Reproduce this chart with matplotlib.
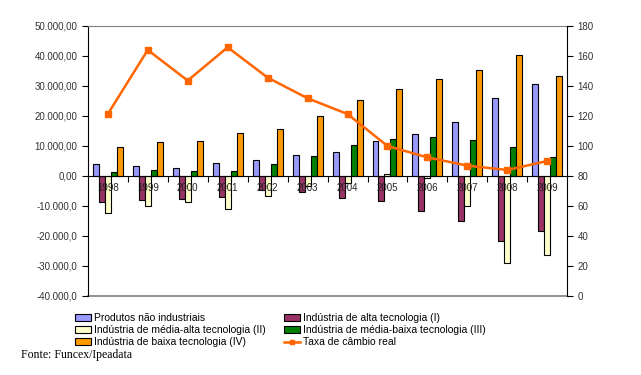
import matplotlib.pyplot as plt
import numpy as np
from matplotlib.patches import Patch
from matplotlib.lines import Line2D

plt.rcParams['font.family'] = ['Liberation Sans', 'DejaVu Sans']

# =========================================================
# Data
# =========================================================
years = ["1998", "1999", "2000", "2001", "2002", "2003",
         "2004", "2005", "2006", "2007", "2008", "2009"]

nao_industriais = [4000, 3300, 2500, 4300, 5200, 6900, 8100, 11500, 13900, 17900, 25900, 30600]
alta_tec = [-8800, -7900, -7600, -6900, -4800, -5400, -7400, -8300, -11800, -15100, -21700, -18400]
media_alta_tec = [-12300, -10100, -8800, -10900, -6800, -3200, -2400, 600, -700, -10100, -29100, -26400]
media_baixa_tec = [1300, 2000, 1600, 1600, 4000, 6700, 10200, 12200, 12900, 11900, 9600, 6200]
baixa_tec = [9700, 11200, 11500, 14200, 15500, 19900, 25200, 28900, 32200, 35200, 40200, 33200]
taxa_cambio = [121.3, 164, 143.6, 165.8, 145.6, 131.8, 121.3, 100, 92.4, 86.9, 84, 90]

left_ticks = [50000, 40000, 30000, 20000, 10000, 0, -10000, -20000, -30000, -40000]
left_labels = ["50.000,00", "40.000,00", "30.000,00", "20.000,00", "10.000,00", "0,00",
               "-10.000,0", "-20.000,0", "-30.000,0", "-40.000,0"]
right_ticks = [0, 20, 40, 60, 80, 100, 120, 140, 160, 180]

series = [
    ("Produtos não industriais", nao_industriais, "#9999FF"),
    ("Indústria de alta tecnologia (I)", alta_tec, "#993366"),
    ("Indústria de média-alta tecnologia (II)", media_alta_tec, "#FFFFCC"),
    ("Indústria de média-baixa tecnologia (III)", media_baixa_tec, "#008000"),
    ("Indústria de baixa tecnologia (IV)", baixa_tec, "#FF9900"),
]
line_color = "#FF6600"

# =========================================================
# Figure
# =========================================================
fig = plt.figure(figsize=(6.41, 3.75), dpi=100)
ax = fig.add_axes([0.137, 0.2107, 0.748, 0.72])

x = np.arange(len(years))
width = 0.15
offsets = [-0.3, -0.15, 0.0, 0.15, 0.3]

for (name, vals, color), off in zip(series, offsets):
    ax.bar(x + off, vals, width, color=color, edgecolor="black", linewidth=0.8, zorder=2)

ax.set_xlim(-0.5, len(years) - 0.5)
ax.set_ylim(-40000, 50000)
ax.set_yticks(left_ticks)
ax.set_yticklabels(left_labels)
ax.tick_params(axis="y", labelsize=7, length=4, width=0.8, colors="black",
               labelcolor="#333333")

# x axis drawn at zero, ticks between the groups
ax.spines["bottom"].set_position(("data", 0))
ax.spines["bottom"].set_color("black")
ax.spines["bottom"].set_zorder(3)
ax.set_xticks(x[:-1] + 0.5)
ax.set_xticklabels([])
ax.tick_params(axis="x", length=4, width=0.8, direction="out")
ax.spines["top"].set_color("#808080")
ax.spines["left"].set_color("black")
ax.spines["right"].set_visible(False)
ax.axhline(-40000, color="#808080", linewidth=1.2, clip_on=False, zorder=1)

for xi, yr in zip(x, years):
    ax.text(xi, -2200, yr, ha="center", va="top", fontsize=7, color="#222222", zorder=4)

# exchange rate on the right axis
ax2 = ax.twinx()
ax2.plot(x, taxa_cambio, color=line_color, linewidth=1.8, marker="s", markersize=4.5)
ax2.set_ylim(0, 180)
ax2.set_yticks(right_ticks)
ax2.tick_params(axis="y", labelsize=7, length=4, width=0.8, labelcolor="#333333")
ax2.spines["right"].set_color("black")
ax2.spines["top"].set_visible(False)
ax2.spines["left"].set_visible(False)
ax2.spines["bottom"].set_visible(False)

# =========================================================
# Legend (two blocks, row order as in the original)
# =========================================================
def patch(i):
    return Patch(facecolor=series[i][2], edgecolor="black", linewidth=0.8, label=series[i][0])

taxa_handle = Line2D([0], [0], color=line_color, linewidth=1.8, marker="s", markersize=3.5,
                     label="Taxa de câmbio real")

leg_kw = dict(frameon=False, fontsize=7.5, handlelength=1.5, handleheight=0.7,
              handletextpad=0.3, labelspacing=0.2, borderaxespad=0, borderpad=0)
leg1 = fig.legend(handles=[patch(0), patch(2), patch(4)], loc="upper left",
                  bbox_to_anchor=(0.117, 0.165), **leg_kw)
leg2 = fig.legend(handles=[patch(1), patch(3), taxa_handle], loc="upper left",
                  bbox_to_anchor=(0.443, 0.165), **leg_kw)

fig.text(0.033, 0.045, "Fonte: Funcex/Ipeadata", fontsize=8.5,
         family=["Liberation Serif", "DejaVu Serif"], color="black")

fig.savefig("out.png", dpi=100)
